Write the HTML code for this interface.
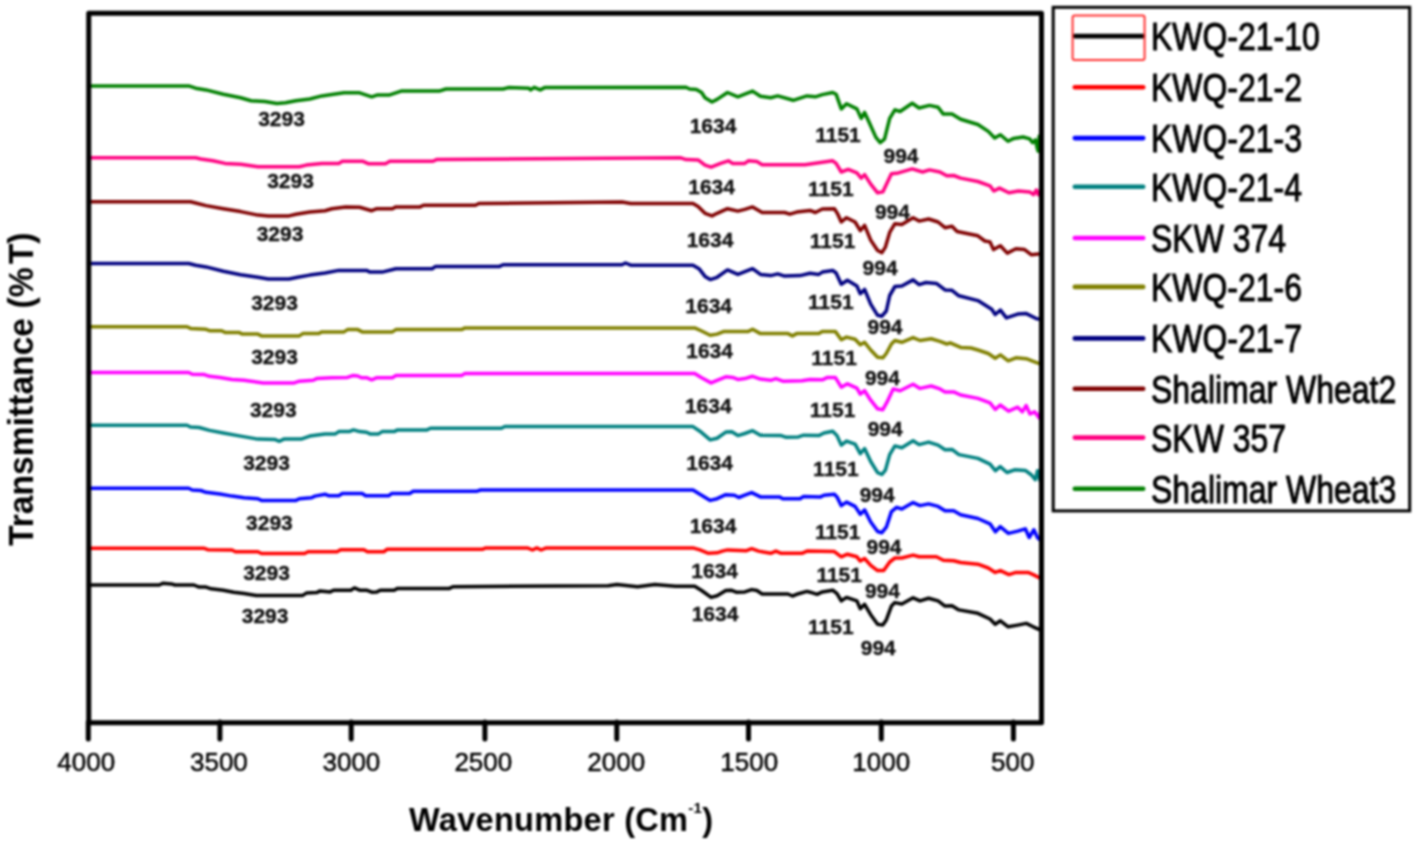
<!DOCTYPE html><html><head><meta charset="utf-8"><style>html,body{margin:0;padding:0;background:#fff;overflow:hidden}svg{display:block}#wrap{filter:blur(0.8px)}text{font-family:"Liberation Sans",sans-serif}</style></head><body><div id="wrap"><svg width="1417" height="846" viewBox="0 0 1417 846">
<rect width="1417" height="846" fill="#fff"/>
<path d="M88.5 85.9 L188.7 85.9 L195.6 88.2 L206.0 89.9 L223.3 94.2 L240.6 97.7 L251.0 100.8 L264.8 101.6 L276.9 103.4 L285.5 102.8 L295.9 100.8 L309.8 99.0 L321.9 95.9 L331.9 94.6 L344.0 92.8 L359.6 92.8 L371.7 96.8 L376.9 95.1 L389.0 95.1 L401.1 91.1 L439.1 91.1 L446.0 89.0 L503.1 89.0 L508.3 87.6 L529.0 88.2 L530.7 89.9 L534.2 87.3 L540.2 89.9 L544.6 87.6 L686.0 87.3 L689.5 89.0 L696.4 89.4 L701.6 92.5 L705.0 97.7 L712.0 102.0 L717.1 99.4 L727.5 92.5 L737.9 96.8 L744.8 94.2 L752.6 91.1 L760.4 96.3 L770.7 97.7 L777.7 95.9 L793.2 100.3 L807.0 95.9 L815.4 96.8 L822.3 94.6 L832.7 92.5 L836.1 94.2 L841.3 108.9 L846.5 103.7 L856.9 108.9 L861.2 118.4 L864.6 112.4 L869.0 121.9 L875.9 137.4 L880.2 142.6 L884.5 139.2 L889.7 118.4 L894.9 109.8 L900.1 111.5 L912.2 103.2 L919.1 108.0 L929.5 105.4 L938.1 107.2 L943.3 114.1 L952.0 114.1 L960.6 119.3 L977.9 124.5 L988.3 131.4 L994.7 138.0 L1000.4 134.7 L1008.0 141.3 L1013.7 138.4 L1023.1 137.0 L1029.7 138.9 L1032.6 142.7 L1035.4 139.9 L1037.3 148.4 L1038.2 151.2 L1039.2 136.1 L1040.6 135.1" fill="none" stroke="#008000" stroke-width="3.5" stroke-linejoin="round" stroke-linecap="round"/>
<path d="M88.5 157.8 L195.6 157.8 L200.8 159.0 L212.9 160.8 L225.0 163.4 L240.6 164.2 L257.9 166.8 L299.4 166.8 L306.3 165.1 L321.9 163.4 L338.8 163.4 L342.3 161.3 L363.0 161.3 L368.2 163.7 L385.5 163.7 L389.8 161.3 L433.0 161.3 L436.5 159.6 L604.8 158.2 L680.8 157.8 L686.0 159.6 L698.1 159.9 L705.0 165.1 L711.1 167.2 L720.6 163.4 L728.4 160.8 L732.7 163.4 L744.8 163.4 L748.3 160.8 L756.9 161.6 L762.1 164.7 L805.0 164.7 L832.7 160.8 L836.1 163.4 L841.3 172.0 L848.2 169.4 L856.9 172.9 L861.2 178.1 L864.6 174.6 L870.7 184.1 L877.6 192.8 L882.8 191.9 L891.4 173.7 L898.4 172.9 L912.2 168.9 L922.6 172.0 L929.5 169.9 L939.9 172.0 L946.8 175.8 L953.7 175.5 L960.6 178.1 L977.9 181.5 L990.0 185.8 L993.8 191.0 L999.5 188.1 L1008.9 192.8 L1018.4 191.0 L1029.7 191.9 L1033.5 194.7 L1036.4 190.0 L1038.2 194.7 L1041.0 189.5" fill="none" stroke="#ff0080" stroke-width="3.5" stroke-linejoin="round" stroke-linecap="round"/>
<path d="M88.5 201.8 L190.5 201.8 L195.6 203.0 L206.0 205.6 L223.3 208.7 L240.6 211.6 L257.9 215.1 L268.3 215.9 L289.0 215.9 L296.0 214.2 L309.8 212.1 L325.0 210.7 L331.9 208.7 L345.7 206.9 L359.6 207.3 L371.7 210.7 L376.9 208.7 L392.4 208.7 L395.9 206.9 L420.1 206.9 L423.5 205.2 L475.4 205.2 L478.9 203.5 L622.0 202.1 L630.7 203.5 L693.0 203.5 L698.1 206.4 L705.0 213.3 L712.0 215.9 L717.1 213.3 L727.5 208.7 L737.9 211.1 L744.8 209.4 L752.6 206.9 L762.1 212.5 L784.6 212.5 L789.8 214.2 L796.7 212.1 L810.0 210.4 L815.4 212.5 L822.3 209.0 L834.4 208.7 L837.8 214.2 L841.3 222.0 L846.5 217.7 L855.1 222.0 L860.3 230.6 L864.6 225.4 L870.7 240.1 L877.6 250.5 L881.9 252.6 L885.4 247.1 L889.7 232.4 L894.9 223.7 L901.8 224.6 L913.1 217.7 L919.1 221.1 L928.6 219.0 L938.1 222.0 L945.0 227.7 L952.0 226.3 L957.1 231.5 L977.9 235.8 L984.8 241.0 L990.0 241.9 L993.5 249.6 L1000.4 245.7 L1007.3 253.1 L1015.9 248.8 L1024.6 249.6 L1031.5 254.8 L1038.4 254.0" fill="none" stroke="#800000" stroke-width="3.5" stroke-linejoin="round" stroke-linecap="round"/>
<path d="M88.5 263.5 L188.7 263.5 L195.6 265.2 L206.0 266.9 L223.3 271.3 L240.6 274.7 L257.9 277.3 L268.3 279.0 L289.0 279.0 L297.7 277.3 L309.8 275.1 L325.0 273.0 L338.8 270.4 L366.5 270.4 L370.0 272.1 L382.1 272.1 L395.9 268.7 L432.2 268.7 L435.6 266.4 L499.6 266.4 L503.1 264.7 L622.0 264.7 L625.5 263.0 L630.7 265.2 L693.0 265.2 L699.0 268.7 L705.0 276.4 L710.2 279.6 L717.1 277.3 L727.5 269.9 L737.9 274.4 L752.6 268.7 L760.4 274.4 L770.7 275.6 L777.7 273.9 L784.6 276.1 L800.1 275.6 L810.0 273.3 L818.8 274.4 L822.3 272.1 L832.7 270.4 L836.1 273.0 L841.3 284.2 L847.4 280.2 L856.9 286.0 L860.3 293.7 L864.6 289.4 L870.7 304.1 L877.6 315.3 L881.9 316.2 L886.3 311.0 L889.7 295.5 L894.9 286.5 L901.8 286.0 L913.1 279.9 L919.1 284.7 L926.0 282.5 L936.4 283.4 L945.0 289.9 L952.0 290.3 L958.9 295.8 L977.9 300.6 L991.7 309.3 L995.2 314.5 L1000.4 310.2 L1006.4 317.9 L1017.7 314.1 L1026.3 313.6 L1036.7 318.8 L1039.5 319.0" fill="none" stroke="#000080" stroke-width="3.5" stroke-linejoin="round" stroke-linecap="round"/>
<path d="M88.5 326.7 L187.0 326.7 L190.5 328.4 L206.0 329.3 L209.5 330.7 L221.6 330.7 L225.0 332.4 L238.9 332.4 L242.3 334.1 L257.9 334.1 L261.4 335.9 L299.4 335.9 L302.8 333.6 L318.4 333.6 L321.9 331.9 L344.0 331.9 L347.5 329.6 L357.8 329.6 L362.2 331.9 L392.4 331.9 L395.9 329.6 L461.6 329.6 L465.0 327.9 L694.7 327.9 L701.6 331.0 L710.2 335.3 L717.1 334.1 L724.1 331.4 L748.3 331.4 L752.6 329.3 L760.4 333.6 L788.0 333.6 L792.4 335.9 L796.7 333.6 L818.8 333.6 L822.3 331.4 L835.3 331.4 L841.3 339.7 L846.5 337.1 L855.1 339.3 L860.3 344.8 L864.6 342.3 L870.7 350.0 L877.6 357.3 L882.8 357.8 L886.3 353.5 L891.4 344.0 L894.9 340.5 L901.8 342.3 L913.1 337.6 L920.0 340.5 L931.2 338.8 L939.9 341.4 L946.8 344.0 L950.2 342.8 L960.6 347.4 L971.0 348.0 L977.9 350.0 L988.3 353.5 L995.2 358.3 L1000.4 354.9 L1008.2 360.8 L1015.9 357.8 L1026.3 358.7 L1033.2 361.3 L1040.1 363.9" fill="none" stroke="#808000" stroke-width="3.5" stroke-linejoin="round" stroke-linecap="round"/>
<path d="M88.5 372.5 L188.7 372.5 L192.2 374.2 L204.3 374.6 L209.5 376.3 L219.9 377.4 L232.0 379.4 L244.1 380.3 L251.0 381.2 L263.1 382.9 L294.2 382.9 L299.4 381.2 L313.2 380.3 L316.7 378.6 L331.9 377.7 L347.5 377.4 L352.7 375.6 L357.8 376.0 L361.3 377.7 L366.5 377.7 L371.7 379.8 L376.9 377.7 L392.4 377.7 L395.9 375.6 L461.6 375.6 L465.0 373.4 L694.7 373.4 L701.6 377.7 L711.1 382.9 L717.1 380.3 L725.8 376.8 L732.7 377.4 L737.9 379.4 L744.8 378.6 L752.6 376.3 L760.4 379.1 L770.7 380.3 L775.9 378.6 L782.8 381.2 L801.9 380.8 L810.0 379.5 L822.3 379.8 L827.5 377.4 L835.3 377.4 L841.3 387.2 L847.4 383.8 L856.9 388.1 L860.3 394.1 L864.6 390.7 L870.7 400.2 L877.6 408.8 L882.8 409.7 L887.1 401.9 L893.2 388.9 L900.1 390.7 L913.1 384.3 L920.0 388.4 L931.2 386.0 L939.9 388.9 L945.0 391.9 L953.7 391.9 L960.6 395.0 L977.9 398.4 L990.0 402.8 L995.3 409.5 L1000.2 405.0 L1008.6 411.2 L1017.7 407.2 L1022.3 411.8 L1026.1 405.6 L1030.0 414.0 L1034.6 411.8 L1039.2 417.9 L1041.0 409.0" fill="none" stroke="#ff00ff" stroke-width="3.5" stroke-linejoin="round" stroke-linecap="round"/>
<path d="M88.5 425.2 L187.0 425.2 L190.5 427.0 L199.1 427.5 L209.5 430.4 L223.3 433.0 L240.6 436.1 L257.9 439.1 L275.2 439.6 L279.5 441.3 L283.8 439.1 L301.1 439.1 L309.8 436.1 L325.0 433.9 L335.4 433.9 L338.8 431.6 L349.2 431.6 L353.5 429.9 L359.6 431.6 L366.5 432.2 L370.0 433.9 L378.6 433.9 L382.1 431.6 L394.2 431.6 L397.6 429.9 L427.0 429.9 L430.5 428.2 L501.4 428.2 L504.8 426.5 L693.0 426.6 L699.9 431.2 L710.2 439.9 L717.1 438.2 L725.8 432.1 L731.8 431.8 L737.9 435.6 L744.8 433.5 L752.6 430.7 L760.4 435.2 L781.1 435.6 L786.3 437.3 L798.4 436.9 L803.6 435.2 L818.8 435.6 L824.0 433.0 L832.7 431.2 L837.0 435.6 L841.3 445.1 L846.5 441.1 L855.1 444.2 L860.3 453.7 L864.6 448.5 L870.7 461.5 L877.6 472.7 L881.9 474.5 L885.4 470.1 L889.7 454.6 L894.9 445.9 L901.8 447.7 L913.1 440.7 L919.1 444.6 L928.6 442.1 L938.1 445.1 L945.0 449.7 L952.0 449.4 L958.9 454.6 L977.9 458.4 L990.0 464.1 L995.4 470.6 L1000.2 466.6 L1007.0 472.5 L1014.6 469.8 L1025.3 470.4 L1031.5 475.0 L1035.3 479.6 L1037.6 470.8 L1040.0 480.5 L1041.2 473.8" fill="none" stroke="#008080" stroke-width="3.5" stroke-linejoin="round" stroke-linecap="round"/>
<path d="M88.5 488.3 L188.7 488.3 L192.2 490.0 L200.8 490.5 L206.0 492.3 L219.9 494.0 L232.0 496.1 L244.1 497.8 L257.9 498.7 L261.4 500.4 L296.0 500.4 L299.4 498.7 L311.5 497.8 L315.0 496.1 L325.3 494.3 L328.5 495.7 L338.8 495.7 L342.3 493.5 L362.2 493.5 L365.6 495.7 L389.0 495.7 L391.6 493.5 L409.7 493.5 L413.2 491.2 L477.1 491.2 L480.6 490.0 L693.0 490.0 L699.9 494.3 L710.2 500.4 L717.1 498.7 L725.8 494.7 L734.4 495.2 L738.8 497.5 L744.8 495.2 L751.7 492.6 L760.4 496.9 L779.4 496.9 L782.8 498.7 L800.1 498.7 L803.6 496.4 L820.6 496.9 L824.0 495.2 L834.4 494.3 L837.0 496.9 L841.3 505.6 L846.5 502.1 L855.1 506.4 L860.3 514.2 L864.6 509.9 L870.7 522.0 L877.6 531.5 L881.9 532.7 L886.3 527.2 L891.4 511.6 L896.6 507.3 L901.8 509.0 L913.1 502.6 L920.0 505.6 L928.6 503.9 L938.1 506.4 L945.0 510.8 L953.7 510.8 L960.6 514.7 L977.9 518.5 L990.0 523.8 L995.4 531.8 L1000.2 526.7 L1008.4 533.4 L1017.7 531.1 L1025.3 528.8 L1029.2 537.5 L1033.8 529.8 L1037.6 537.8 L1040.6 540.5 L1041.3 534.0" fill="none" stroke="#0000ff" stroke-width="3.5" stroke-linejoin="round" stroke-linecap="round"/>
<path d="M88.5 548.3 L204.3 548.3 L207.8 549.7 L232.0 550.0 L235.4 551.7 L257.9 551.7 L261.4 553.5 L304.6 553.5 L308.0 551.7 L337.1 551.7 L340.6 549.7 L363.9 549.7 L367.4 551.7 L383.8 551.7 L387.2 549.3 L482.3 549.3 L485.8 547.9 L527.3 547.9 L532.5 550.0 L536.8 547.9 L541.1 550.0 L546.3 547.9 L693.0 547.9 L699.9 549.9 L708.5 553.3 L717.1 552.8 L722.3 551.1 L727.5 549.9 L746.5 550.7 L751.7 548.7 L758.6 551.1 L770.7 553.3 L775.9 551.1 L781.1 553.3 L801.9 553.3 L807.0 551.1 L834.4 551.6 L841.3 556.8 L847.4 554.2 L856.9 556.8 L860.3 561.1 L864.6 558.5 L870.7 565.4 L877.6 570.6 L883.7 570.6 L889.7 562.0 L894.9 558.0 L901.8 558.0 L913.1 555.1 L919.1 556.8 L936.4 556.8 L943.3 560.3 L953.7 560.8 L960.6 562.5 L977.9 564.2 L988.3 568.0 L995.2 572.4 L1000.4 570.6 L1009.0 574.6 L1015.9 572.4 L1028.0 572.4 L1033.2 574.6 L1040.1 578.1" fill="none" stroke="#ff0000" stroke-width="3.5" stroke-linejoin="round" stroke-linecap="round"/>
<path d="M88.5 585.0 L159.3 585.0 L162.8 583.3 L171.4 583.9 L174.9 585.0 L193.9 585.0 L199.1 587.1 L206.0 587.1 L211.2 588.8 L223.3 590.2 L233.7 592.2 L244.1 593.6 L256.2 595.4 L302.8 595.4 L306.3 593.1 L316.7 592.6 L320.1 590.9 L330.2 591.9 L333.6 590.2 L350.9 590.2 L354.4 587.9 L359.6 590.2 L366.5 590.2 L371.7 592.2 L376.9 591.9 L380.3 590.2 L394.2 590.2 L397.6 588.4 L449.5 588.4 L452.9 586.7 L608.2 585.7 L616.9 584.5 L637.6 586.7 L654.9 584.5 L675.6 586.2 L694.7 586.2 L701.6 590.5 L711.1 597.4 L717.1 595.7 L725.8 590.5 L731.0 590.2 L736.2 592.2 L744.8 591.9 L751.7 589.6 L756.9 590.5 L762.1 594.0 L788.0 594.0 L792.4 596.0 L796.7 594.3 L807.0 591.4 L810.2 592.2 L817.1 594.3 L822.3 591.9 L832.7 590.2 L837.0 593.6 L841.3 600.9 L846.5 597.4 L856.9 600.9 L860.3 608.7 L864.6 604.3 L870.7 614.7 L877.6 624.2 L882.8 625.1 L886.3 619.9 L891.4 606.1 L894.9 602.6 L901.8 604.0 L913.1 597.8 L920.0 600.9 L928.6 598.3 L938.1 600.9 L945.0 606.1 L952.0 605.7 L958.9 609.9 L977.9 613.3 L990.0 619.0 L995.2 624.2 L1000.4 620.8 L1008.2 626.8 L1017.7 625.1 L1026.3 623.4 L1033.2 626.8 L1040.1 629.9" fill="none" stroke="#000000" stroke-width="3.5" stroke-linejoin="round" stroke-linecap="round"/>
<rect x="88.75" y="13.3" width="952.75" height="709.4" fill="none" stroke="#000" stroke-width="5" stroke-linejoin="round"/>
<line x1="88.3" y1="722" x2="88.3" y2="739" stroke="#000" stroke-width="5" stroke-linecap="round"/>
<text x="86.2" y="771" text-anchor="middle" font-family="Liberation Sans" font-size="26" fill="#000" stroke="#000" stroke-width="0.45">4000</text>
<line x1="219.9" y1="722" x2="219.9" y2="739" stroke="#000" stroke-width="5" stroke-linecap="round"/>
<text x="218.9" y="771" text-anchor="middle" font-family="Liberation Sans" font-size="26" fill="#000" stroke="#000" stroke-width="0.45">3500</text>
<line x1="351.2" y1="722" x2="351.2" y2="739" stroke="#000" stroke-width="5" stroke-linecap="round"/>
<text x="351.4" y="771" text-anchor="middle" font-family="Liberation Sans" font-size="26" fill="#000" stroke="#000" stroke-width="0.45">3000</text>
<line x1="484.9" y1="722" x2="484.9" y2="739" stroke="#000" stroke-width="5" stroke-linecap="round"/>
<text x="483.3" y="771" text-anchor="middle" font-family="Liberation Sans" font-size="26" fill="#000" stroke="#000" stroke-width="0.45">2500</text>
<line x1="616.8" y1="722" x2="616.8" y2="739" stroke="#000" stroke-width="5" stroke-linecap="round"/>
<text x="616.2" y="771" text-anchor="middle" font-family="Liberation Sans" font-size="26" fill="#000" stroke="#000" stroke-width="0.45">2000</text>
<line x1="748.5" y1="722" x2="748.5" y2="739" stroke="#000" stroke-width="5" stroke-linecap="round"/>
<text x="749.2" y="771" text-anchor="middle" font-family="Liberation Sans" font-size="26" fill="#000" stroke="#000" stroke-width="0.45">1500</text>
<line x1="881.3" y1="722" x2="881.3" y2="739" stroke="#000" stroke-width="5" stroke-linecap="round"/>
<text x="881.2" y="771" text-anchor="middle" font-family="Liberation Sans" font-size="26" fill="#000" stroke="#000" stroke-width="0.45">1000</text>
<line x1="1013.4" y1="722" x2="1013.4" y2="739" stroke="#000" stroke-width="5" stroke-linecap="round"/>
<text x="1012.7" y="771" text-anchor="middle" font-family="Liberation Sans" font-size="26" fill="#000" stroke="#000" stroke-width="0.45">500</text>
<text x="409" y="831" font-family="Liberation Sans" font-weight="bold" font-size="32.5" letter-spacing="0.3" fill="#000">Wavenumber (Cm<tspan font-size="15" dy="-18">-1</tspan><tspan dy="18">)</tspan></text>
<text transform="translate(32.5,546) rotate(-90) scale(0.935,1)" x="0" y="0" font-family="Liberation Sans" font-weight="bold" font-size="36" fill="#000">Transmittance (%<tspan dx="3.5">T</tspan>)</text>
<text x="281.5" y="125.5" text-anchor="middle" font-family="Liberation Sans" font-weight="bold" font-size="21" fill="#111" stroke="#111" stroke-width="0.35">3293</text>
<text x="713.0" y="132.8" text-anchor="middle" font-family="Liberation Sans" font-weight="bold" font-size="21" fill="#111" stroke="#111" stroke-width="0.35">1634</text>
<text x="838.0" y="141.8" text-anchor="middle" font-family="Liberation Sans" font-weight="bold" font-size="21" fill="#111" stroke="#111" stroke-width="0.35">1151</text>
<text x="901.0" y="162.7" text-anchor="middle" font-family="Liberation Sans" font-weight="bold" font-size="21" fill="#111" stroke="#111" stroke-width="0.35">994</text>
<text x="290.5" y="188.2" text-anchor="middle" font-family="Liberation Sans" font-weight="bold" font-size="21" fill="#111" stroke="#111" stroke-width="0.35">3293</text>
<text x="711.6" y="193.9" text-anchor="middle" font-family="Liberation Sans" font-weight="bold" font-size="21" fill="#111" stroke="#111" stroke-width="0.35">1634</text>
<text x="830.8" y="195.8" text-anchor="middle" font-family="Liberation Sans" font-weight="bold" font-size="21" fill="#111" stroke="#111" stroke-width="0.35">1151</text>
<text x="892.4" y="218.9" text-anchor="middle" font-family="Liberation Sans" font-weight="bold" font-size="21" fill="#111" stroke="#111" stroke-width="0.35">994</text>
<text x="280.0" y="241.2" text-anchor="middle" font-family="Liberation Sans" font-weight="bold" font-size="21" fill="#111" stroke="#111" stroke-width="0.35">3293</text>
<text x="710.0" y="246.9" text-anchor="middle" font-family="Liberation Sans" font-weight="bold" font-size="21" fill="#111" stroke="#111" stroke-width="0.35">1634</text>
<text x="832.6" y="247.7" text-anchor="middle" font-family="Liberation Sans" font-weight="bold" font-size="21" fill="#111" stroke="#111" stroke-width="0.35">1151</text>
<text x="880.1" y="275.2" text-anchor="middle" font-family="Liberation Sans" font-weight="bold" font-size="21" fill="#111" stroke="#111" stroke-width="0.35">994</text>
<text x="274.5" y="309.8" text-anchor="middle" font-family="Liberation Sans" font-weight="bold" font-size="21" fill="#111" stroke="#111" stroke-width="0.35">3293</text>
<text x="708.7" y="312.5" text-anchor="middle" font-family="Liberation Sans" font-weight="bold" font-size="21" fill="#111" stroke="#111" stroke-width="0.35">1634</text>
<text x="830.8" y="308.7" text-anchor="middle" font-family="Liberation Sans" font-weight="bold" font-size="21" fill="#111" stroke="#111" stroke-width="0.35">1151</text>
<text x="885.0" y="333.8" text-anchor="middle" font-family="Liberation Sans" font-weight="bold" font-size="21" fill="#111" stroke="#111" stroke-width="0.35">994</text>
<text x="274.5" y="364.3" text-anchor="middle" font-family="Liberation Sans" font-weight="bold" font-size="21" fill="#111" stroke="#111" stroke-width="0.35">3293</text>
<text x="709.6" y="358.3" text-anchor="middle" font-family="Liberation Sans" font-weight="bold" font-size="21" fill="#111" stroke="#111" stroke-width="0.35">1634</text>
<text x="834.1" y="364.9" text-anchor="middle" font-family="Liberation Sans" font-weight="bold" font-size="21" fill="#111" stroke="#111" stroke-width="0.35">1151</text>
<text x="882.4" y="384.5" text-anchor="middle" font-family="Liberation Sans" font-weight="bold" font-size="21" fill="#111" stroke="#111" stroke-width="0.35">994</text>
<text x="273.3" y="417.2" text-anchor="middle" font-family="Liberation Sans" font-weight="bold" font-size="21" fill="#111" stroke="#111" stroke-width="0.35">3293</text>
<text x="708.3" y="412.7" text-anchor="middle" font-family="Liberation Sans" font-weight="bold" font-size="21" fill="#111" stroke="#111" stroke-width="0.35">1634</text>
<text x="832.6" y="417.3" text-anchor="middle" font-family="Liberation Sans" font-weight="bold" font-size="21" fill="#111" stroke="#111" stroke-width="0.35">1151</text>
<text x="885.2" y="435.5" text-anchor="middle" font-family="Liberation Sans" font-weight="bold" font-size="21" fill="#111" stroke="#111" stroke-width="0.35">994</text>
<text x="266.5" y="469.9" text-anchor="middle" font-family="Liberation Sans" font-weight="bold" font-size="21" fill="#111" stroke="#111" stroke-width="0.35">3293</text>
<text x="709.6" y="470.2" text-anchor="middle" font-family="Liberation Sans" font-weight="bold" font-size="21" fill="#111" stroke="#111" stroke-width="0.35">1634</text>
<text x="835.9" y="475.7" text-anchor="middle" font-family="Liberation Sans" font-weight="bold" font-size="21" fill="#111" stroke="#111" stroke-width="0.35">1151</text>
<text x="877.2" y="501.7" text-anchor="middle" font-family="Liberation Sans" font-weight="bold" font-size="21" fill="#111" stroke="#111" stroke-width="0.35">994</text>
<text x="269.4" y="529.5" text-anchor="middle" font-family="Liberation Sans" font-weight="bold" font-size="21" fill="#111" stroke="#111" stroke-width="0.35">3293</text>
<text x="713.0" y="533.1" text-anchor="middle" font-family="Liberation Sans" font-weight="bold" font-size="21" fill="#111" stroke="#111" stroke-width="0.35">1634</text>
<text x="837.7" y="538.9" text-anchor="middle" font-family="Liberation Sans" font-weight="bold" font-size="21" fill="#111" stroke="#111" stroke-width="0.35">1151</text>
<text x="884.0" y="553.8" text-anchor="middle" font-family="Liberation Sans" font-weight="bold" font-size="21" fill="#111" stroke="#111" stroke-width="0.35">994</text>
<text x="266.5" y="580.1" text-anchor="middle" font-family="Liberation Sans" font-weight="bold" font-size="21" fill="#111" stroke="#111" stroke-width="0.35">3293</text>
<text x="714.6" y="577.7" text-anchor="middle" font-family="Liberation Sans" font-weight="bold" font-size="21" fill="#111" stroke="#111" stroke-width="0.35">1634</text>
<text x="839.2" y="581.6" text-anchor="middle" font-family="Liberation Sans" font-weight="bold" font-size="21" fill="#111" stroke="#111" stroke-width="0.35">1151</text>
<text x="882.4" y="598.2" text-anchor="middle" font-family="Liberation Sans" font-weight="bold" font-size="21" fill="#111" stroke="#111" stroke-width="0.35">994</text>
<text x="265.1" y="623.1" text-anchor="middle" font-family="Liberation Sans" font-weight="bold" font-size="21" fill="#111" stroke="#111" stroke-width="0.35">3293</text>
<text x="715.0" y="621.3" text-anchor="middle" font-family="Liberation Sans" font-weight="bold" font-size="21" fill="#111" stroke="#111" stroke-width="0.35">1634</text>
<text x="830.8" y="634.1" text-anchor="middle" font-family="Liberation Sans" font-weight="bold" font-size="21" fill="#111" stroke="#111" stroke-width="0.35">1151</text>
<text x="878.3" y="654.5" text-anchor="middle" font-family="Liberation Sans" font-weight="bold" font-size="21" fill="#111" stroke="#111" stroke-width="0.35">994</text>
<rect x="1053.2" y="7.3" width="356.5" height="503.6" fill="none" stroke="#000" stroke-width="3"/>
<line x1="1074.8" y1="36.1" x2="1143.2" y2="36.1" stroke="#000000" stroke-width="4.6" stroke-linecap="round"/>
<text transform="translate(1151,50.0) scale(0.82,1)" font-family="Liberation Sans" font-size="39" fill="#000" stroke="#000" stroke-width="1.0">KWQ-21-10</text>
<line x1="1074.8" y1="87.3" x2="1143.2" y2="87.3" stroke="#ff0000" stroke-width="4.6" stroke-linecap="round"/>
<text transform="translate(1151,101.2) scale(0.82,1)" font-family="Liberation Sans" font-size="39" fill="#000" stroke="#000" stroke-width="1.0">KWQ-21-2</text>
<line x1="1074.8" y1="138.1" x2="1143.2" y2="138.1" stroke="#0000ff" stroke-width="4.6" stroke-linecap="round"/>
<text transform="translate(1151,152.0) scale(0.82,1)" font-family="Liberation Sans" font-size="39" fill="#000" stroke="#000" stroke-width="1.0">KWQ-21-3</text>
<line x1="1074.8" y1="186.8" x2="1143.2" y2="186.8" stroke="#008080" stroke-width="4.6" stroke-linecap="round"/>
<text transform="translate(1151,200.7) scale(0.82,1)" font-family="Liberation Sans" font-size="39" fill="#000" stroke="#000" stroke-width="1.0">KWQ-21-4</text>
<line x1="1074.8" y1="238.0" x2="1143.2" y2="238.0" stroke="#ff00ff" stroke-width="4.6" stroke-linecap="round"/>
<text transform="translate(1151,251.9) scale(0.82,1)" font-family="Liberation Sans" font-size="39" fill="#000" stroke="#000" stroke-width="1.0">SKW 374</text>
<line x1="1074.8" y1="286.9" x2="1143.2" y2="286.9" stroke="#808000" stroke-width="4.6" stroke-linecap="round"/>
<text transform="translate(1151,300.8) scale(0.82,1)" font-family="Liberation Sans" font-size="39" fill="#000" stroke="#000" stroke-width="1.0">KWQ-21-6</text>
<line x1="1074.8" y1="338.4" x2="1143.2" y2="338.4" stroke="#000080" stroke-width="4.6" stroke-linecap="round"/>
<text transform="translate(1151,352.3) scale(0.82,1)" font-family="Liberation Sans" font-size="39" fill="#000" stroke="#000" stroke-width="1.0">KWQ-21-7</text>
<line x1="1074.8" y1="388.8" x2="1143.2" y2="388.8" stroke="#800000" stroke-width="4.6" stroke-linecap="round"/>
<text transform="translate(1151,402.7) scale(0.82,1)" font-family="Liberation Sans" font-size="39" fill="#000" stroke="#000" stroke-width="1.0">Shalimar Wheat2</text>
<line x1="1074.8" y1="437.6" x2="1143.2" y2="437.6" stroke="#ff0080" stroke-width="4.6" stroke-linecap="round"/>
<text transform="translate(1151,451.5) scale(0.82,1)" font-family="Liberation Sans" font-size="39" fill="#000" stroke="#000" stroke-width="1.0">SKW 357</text>
<line x1="1074.8" y1="488.8" x2="1143.2" y2="488.8" stroke="#008000" stroke-width="4.6" stroke-linecap="round"/>
<text transform="translate(1151,502.7) scale(0.82,1)" font-family="Liberation Sans" font-size="39" fill="#000" stroke="#000" stroke-width="1.0">Shalimar Wheat3</text>
<rect x="1072.6" y="15.4" width="72" height="44.5" rx="2" fill="none" stroke="#ff3030" stroke-width="2"/>
</svg></div></body></html>
